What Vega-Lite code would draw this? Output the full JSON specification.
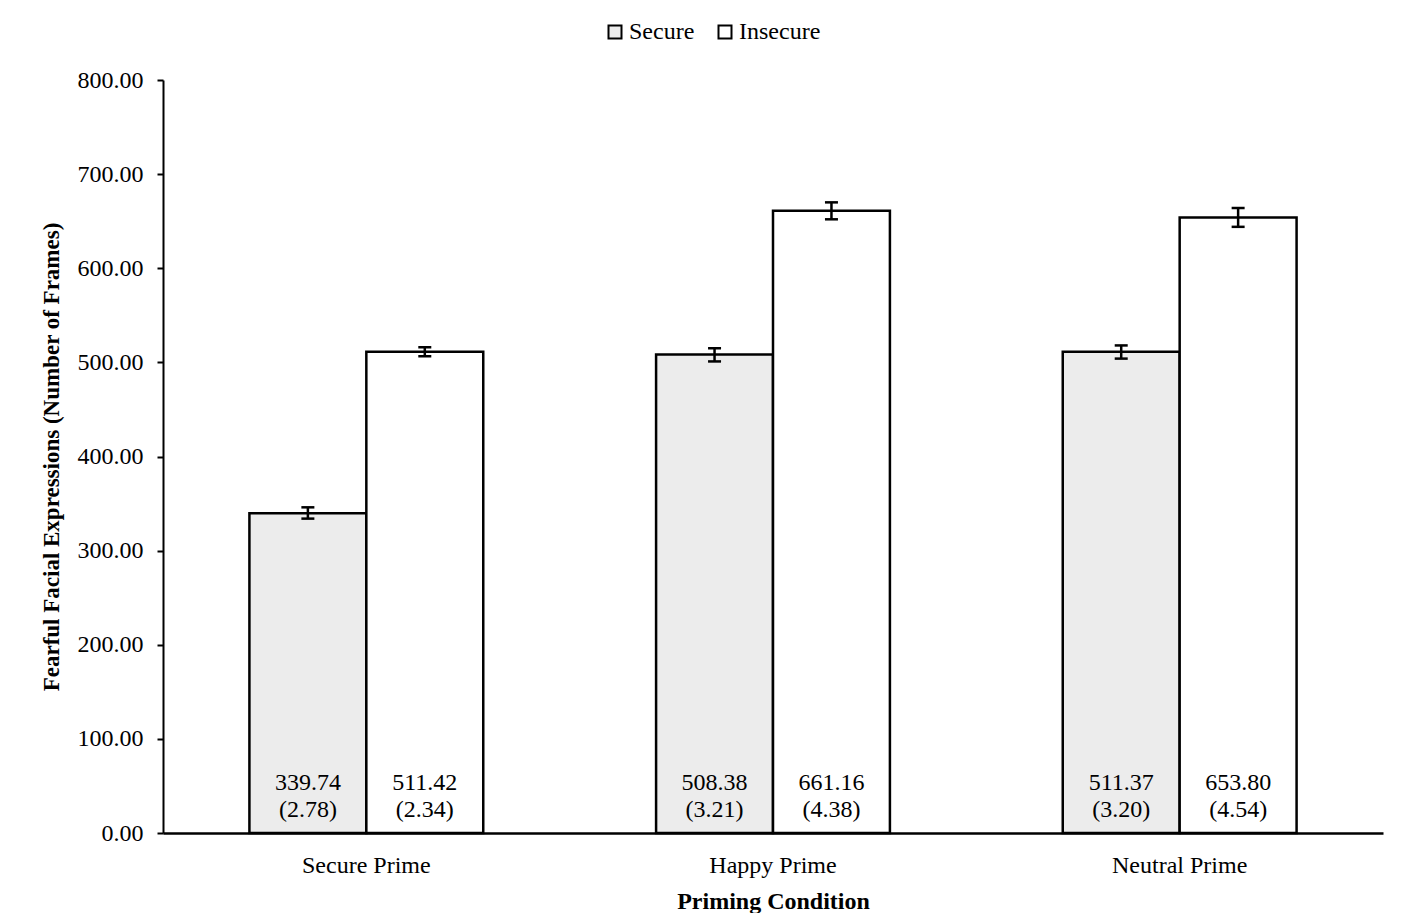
{
  "$schema": "https://vega.github.io/schema/vega-lite/v6.json",
  "width": 1220,
  "height": 753,
  "autosize": {"type": "none"},
  "padding": {"left": 163, "top": 80, "right": 22, "bottom": 80},
  "background": "white",
  "config": {
    "view": {"stroke": null},
    "font": "Liberation Serif",
    "axis": {
      "domainColor": "black",
      "domainWidth": 2,
      "tickColor": "black",
      "tickWidth": 2,
      "labelColor": "black",
      "labelFont": "Liberation Serif",
      "titleFont": "Liberation Serif",
      "titleColor": "black",
      "titleFontWeight": "bold",
      "grid": false
    }
  },
  "data": {
    "values": [
      {"condition": "Secure Prime", "group": "Secure", "mean": 339.74, "se_text": "(2.78)", "lo": 334, "hi": 346},
      {"condition": "Secure Prime", "group": "Insecure", "mean": 511.42, "se_text": "(2.34)", "lo": 506.5, "hi": 516},
      {"condition": "Happy Prime", "group": "Secure", "mean": 508.38, "se_text": "(3.21)", "lo": 501, "hi": 515},
      {"condition": "Happy Prime", "group": "Insecure", "mean": 661.16, "se_text": "(4.38)", "lo": 652, "hi": 670},
      {"condition": "Neutral Prime", "group": "Secure", "mean": 511.37, "se_text": "(3.20)", "lo": 504, "hi": 518},
      {"condition": "Neutral Prime", "group": "Insecure", "mean": 653.80, "se_text": "(4.54)", "lo": 644, "hi": 664}
    ]
  },
  "encoding": {
    "x": {
      "field": "condition",
      "type": "nominal",
      "sort": ["Secure Prime", "Happy Prime", "Neutral Prime"],
      "scale": {"paddingInner": 0.425, "paddingOuter": 0.2125},
      "title": "Priming Condition",
      "axis": {
        "ticks": false,
        "labelAngle": 0,
        "labelFontSize": 24,
        "labelPadding": 20,
        "titleFontSize": 24,
        "titlePadding": 12,
        "domainWidth": 2.5
      }
    },
    "xOffset": {"field": "group", "type": "nominal", "sort": ["Secure", "Insecure"]}
  },
  "layer": [
    {
      "mark": {"type": "bar", "stroke": "black", "strokeWidth": 2.5},
      "encoding": {
        "y": {
          "field": "mean",
          "type": "quantitative",
          "scale": {"domain": [0, 800], "nice": false},
          "title": "Fearful Facial Expressions (Number of Frames)",
          "axis": {
            "values": [0, 100, 200, 300, 400, 500, 600, 700, 800],
            "format": ".2f",
            "labelFontSize": 24,
            "labelPadding": 14,
            "tickSize": 6,
            "titleFontSize": 23,
            "titlePadding": 14
          }
        },
        "fill": {
          "field": "group",
          "type": "nominal",
          "scale": {"domain": ["Secure", "Insecure"], "range": ["#ececec", "#ffffff"]},
          "legend": {
            "title": null,
            "orient": "none",
            "direction": "horizontal",
            "legendX": 440,
            "legendY": -60,
            "symbolType": "square",
            "symbolSize": 169,
            "symbolStrokeColor": "black",
            "symbolStrokeWidth": 2,
            "labelFontSize": 24,
            "labelFont": "Liberation Serif",
            "labelColor": "black",
            "labelOffset": 2,
            "columnPadding": 18
          }
        }
      }
    },
    {
      "mark": {"type": "rule", "color": "black", "strokeWidth": 2.5},
      "encoding": {
        "y": {"field": "lo", "type": "quantitative"},
        "y2": {"field": "hi"}
      }
    },
    {
      "mark": {"type": "tick", "orient": "horizontal", "size": 13, "thickness": 2.5, "color": "black", "opacity": 1},
      "encoding": {"y": {"field": "lo", "type": "quantitative"}}
    },
    {
      "mark": {"type": "tick", "orient": "horizontal", "size": 13, "thickness": 2.5, "color": "black", "opacity": 1},
      "encoding": {"y": {"field": "hi", "type": "quantitative"}}
    },
    {
      "mark": {"type": "text", "fontSize": 24, "dy": -50, "baseline": "middle", "color": "black", "font": "Liberation Serif"},
      "encoding": {
        "y": {"datum": 0, "type": "quantitative"},
        "text": {"field": "mean", "type": "quantitative", "format": ".2f"}
      }
    },
    {
      "mark": {"type": "text", "fontSize": 24, "dy": -23, "baseline": "middle", "color": "black", "font": "Liberation Serif"},
      "encoding": {
        "y": {"datum": 0, "type": "quantitative"},
        "text": {"field": "se_text", "type": "nominal"}
      }
    }
  ]
}
